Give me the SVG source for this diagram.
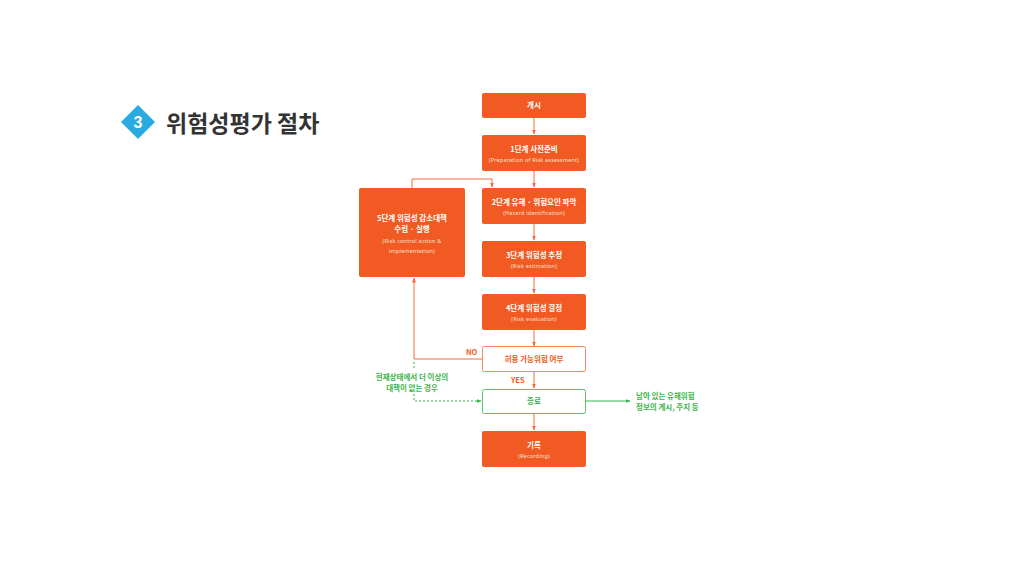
<svg xmlns="http://www.w3.org/2000/svg" width="1010" height="568" viewBox="0 0 1010 568">
<defs>
<style>
.box{fill:#F15A22;}
.t{font-family:"Noto Sans CJK KR","Noto Sans",sans-serif;font-weight:700;font-size:7.5px;fill:#fff;text-anchor:middle;}
.s{font-family:"Noto Sans","Noto Sans CJK KR",sans-serif;font-size:5.4px;letter-spacing:0.25px;fill:#fde3d6;text-anchor:middle;}
.ln{stroke:#F26B3A;stroke-width:1;fill:none;}
.gl{stroke:#39B54A;stroke-width:1;fill:none;}
.gt{font-family:"Noto Sans CJK KR",sans-serif;font-weight:700;font-size:7.5px;fill:#39B54A;}
.ol{font-family:"Noto Sans CJK KR",sans-serif;font-weight:700;font-size:7.5px;fill:#F15A22;}
</style>
<marker id="ao" viewBox="0 0 10 10" refX="9" refY="5" markerWidth="5" markerHeight="5" orient="auto"><path d="M0,1 L10,5 L0,9 Z" fill="#F26B3A"/></marker>
<marker id="ag" viewBox="0 0 10 10" refX="9" refY="5" markerWidth="5" markerHeight="5" orient="auto"><path d="M0,1 L10,5 L0,9 Z" fill="#39B54A"/></marker>
</defs>
<rect width="1010" height="568" fill="#fff"/>
<g id="title">
<path d="M138,105 L155,122 L138,139 L121,122 Z" fill="#29ABE2"/>
<text x="138" y="128" font-family="Liberation Sans,sans-serif" font-weight="700" font-size="16" fill="#fff" text-anchor="middle">3</text>
<text x="166" y="132" font-family="Noto Sans CJK KR,sans-serif" font-weight="700" font-size="23" fill="#333">위험성평가 절차</text>
</g>
<g id="connectors">
<line class="ln" x1="534" y1="118" x2="534" y2="134" marker-end="url(#ao)"/>
<line class="ln" x1="534" y1="171" x2="534" y2="187" marker-end="url(#ao)"/>
<line class="ln" x1="534" y1="224" x2="534" y2="240" marker-end="url(#ao)"/>
<line class="ln" x1="534" y1="277" x2="534" y2="293" marker-end="url(#ao)"/>
<line class="ln" x1="534" y1="330" x2="534" y2="346" marker-end="url(#ao)"/>
<line class="ln" x1="534" y1="372" x2="534" y2="388" marker-end="url(#ao)"/>
<line class="ln" x1="534" y1="414" x2="534" y2="430" marker-end="url(#ao)"/>
<polyline class="ln" points="412,188 412,179 492,179 492,187" marker-end="url(#ao)"/>
<polyline class="ln" points="482,359 414,359 414,278" marker-end="url(#ao)"/>
<polyline class="gl" points="414,362 414,401 481,401" stroke-dasharray="2,2" marker-end="url(#ag)"/>
<line class="gl" x1="586" y1="401" x2="630" y2="401" marker-end="url(#ag)"/>
<rect x="371" y="370" width="84" height="24" fill="#fff"/>
<text class="ol" x="466" y="355">NO</text>
<text class="ol" x="511" y="383">YES</text>
<text class="gt" x="412" y="380" text-anchor="middle">현재상태에서 더 이상의</text>
<text class="gt" x="412" y="391" text-anchor="middle">대책이 없는 경우</text>
<text class="gt" x="636" y="399">남아 있는 유해위험</text>
<text class="gt" x="636" y="410">정보의 게시, 주지 등</text>
</g>
<g id="start"><rect class="box" x="482" y="93" width="104" height="25" rx="2"/><text class="t" x="534" y="108">개시</text></g>
<g id="step1"><rect class="box" x="482" y="135" width="104" height="36" rx="2"/><text class="t" x="534" y="152">1단계 사전준비</text><text class="s" x="534" y="162">(Preparation of Risk assessment)</text></g>
<g id="step2"><rect class="box" x="482" y="188" width="104" height="36" rx="2"/><text class="t" x="534" y="205">2단계 유해 · 위험요인 파악</text><text class="s" x="534" y="215">(Hazard identification)</text></g>
<g id="step3"><rect class="box" x="482" y="241" width="104" height="36" rx="2"/><text class="t" x="534" y="258">3단계 위험성 추정</text><text class="s" x="534" y="268">(Risk estimation)</text></g>
<g id="step4"><rect class="box" x="482" y="294" width="104" height="36" rx="2"/><text class="t" x="534" y="311">4단계 위험성 결정</text><text class="s" x="534" y="321">(Risk evaluation)</text></g>
<g id="step5"><rect class="box" x="359" y="188" width="106" height="89" rx="2"/><text class="t" x="412" y="221">5단계 위험성 감소대책</text><text class="t" x="412" y="232">수립 · 실행</text><text class="s" x="412" y="243">(Risk control action &amp;</text><text class="s" x="412" y="253">implementation)</text></g>
<g id="decision"><rect x="482.5" y="346.5" width="103" height="25" rx="2" fill="#fff" stroke="#F58A5E" stroke-width="1"/><text class="t" x="534" y="362" style="fill:#F15A22">허용 가능위험 여부</text></g>
<g id="end"><rect x="482.5" y="389.5" width="103" height="24" rx="2" fill="#fff" stroke="#5CC16B" stroke-width="1"/><text class="t" x="534" y="404" style="fill:#39B54A">종료</text></g>
<g id="record"><rect class="box" x="482" y="431" width="104" height="36" rx="2"/><text class="t" x="534" y="448">기록</text><text class="s" x="534" y="458">(Recording)</text></g>
</svg>
